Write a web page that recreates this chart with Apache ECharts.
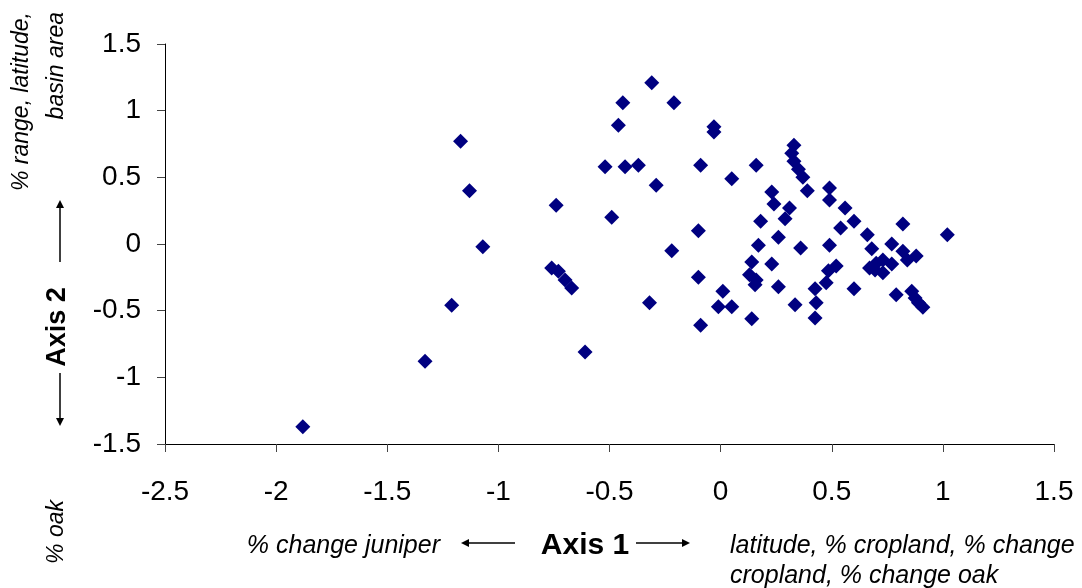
<!DOCTYPE html>
<html><head><meta charset="utf-8">
<script src="https://cdn.jsdelivr.net/npm/echarts@6/dist/echarts.min.js"></script>
<style>html,body{margin:0;padding:0;background:#fff}#c{width:1082px;height:588px}</style>
</head><body><div id="c"></div>
<script>
const axis1 = [-1.88,-1.33,-1.21,-1.07,-1.17,-1.13,-0.31,-0.44,-0.21,-0.46,-0.03,-0.03,0.33,0.32,0.33,0.35,0.37,0.39,-0.52,-0.43,-0.37,-0.09,0.16,0.05,-0.29,-0.74,0.23,0.24,0.31,0.29,0.18,-0.49,-0.10,0.26,0.17,0.36,-0.22,0.49,0.49,0.56,0.60,0.54,0.82,1.02,0.66,0.49,0.68,0.77,0.82,0.88,0.84,-0.76,-0.73,-0.70,-0.67,-0.32,-0.61,-0.10,0.01,-0.01,0.05,-0.09,0.14,0.23,0.13,0.16,0.155,0.26,0.335,0.14,0.425,0.43,0.425,0.475,0.485,0.52,0.60,0.67,0.70,0.73,0.77,0.73,0.695,0.79,0.86,0.875,0.89,0.91];
const axis2 = [-1.37,-0.88,-0.46,-0.02,0.77,0.40,1.21,1.06,1.06,0.89,0.88,0.84,0.74,0.68,0.62,0.56,0.50,0.40,0.58,0.58,0.59,0.59,0.59,0.49,0.44,0.29,0.39,0.30,0.27,0.19,0.17,0.20,0.10,0.05,-0.01,-0.03,-0.05,0.42,0.33,0.27,0.17,0.12,0.15,0.07,0.07,-0.01,-0.035,0.00,-0.055,-0.09,-0.12,-0.18,-0.205,-0.27,-0.33,-0.44,-0.81,-0.25,-0.355,-0.47,-0.47,-0.61,-0.135,-0.15,-0.23,-0.27,-0.305,-0.32,-0.455,-0.56,-0.335,-0.44,-0.555,-0.29,-0.20,-0.165,-0.335,-0.18,-0.145,-0.12,-0.15,-0.215,-0.195,-0.38,-0.355,-0.405,-0.44,-0.475];
const xTicks = {min:-2.5, max:1.5, interval:0.5};
const yTicks = {min:-1.5, max:1.5, interval:0.5};
const axis1Title = 'Axis 1', axis2Title = 'Axis 2';
const axis1Left = '% change juniper';
const axis1Right = ['latitude, % cropland, % change','cropland, % change oak'];
const axis2Top = ['% range, latitude,','basin area'];
const axis2Bottom = '% oak';

const pts = axis1.map((x,i)=>[x, axis2[i]]);
const FONT = '"Liberation Sans", Arial, sans-serif';
const fmt = v => String(v);
const chart = echarts.init(document.getElementById('c'), null, {renderer:'canvas'});
const ar = (x1,y1,x2,y2)=>{
  const dx=x2-x1, dy=y2-y1, L=Math.hypot(dx,dy), ux=dx/L, uy=dy/L, h=8, w=4;
  return [
    {type:'line', shape:{x1,y1,x2:x2-ux*h*0.8,y2:y2-uy*h*0.8}, style:{stroke:'#000', lineWidth:1.5}},
    {type:'polygon', shape:{points:[[x2,y2],[x2-ux*h-uy*w,y2-uy*h+ux*w],[x2-ux*h+uy*w,y2-uy*h-ux*w]]}, style:{fill:'#000'}}
  ];
};
chart.setOption({
  animation:false,
  grid:{left:165, right:28, top:44, bottom:144, containLabel:false},
  xAxis:{type:'value', min:xTicks.min, max:xTicks.max, interval:xTicks.interval,
    axisLine:{show:true, onZero:false, lineStyle:{color:'#000', width:1}},
    axisTick:{show:true, inside:false, length:8, lineStyle:{color:'#444'}},
    splitLine:{show:false},
    axisLabel:{color:'#000', fontSize:28, fontFamily:FONT, margin:34, formatter:fmt}},
  yAxis:{type:'value', min:yTicks.min, max:yTicks.max, interval:yTicks.interval,
    axisLine:{show:true, onZero:false, lineStyle:{color:'#000', width:1}},
    axisTick:{show:true, inside:false, length:8, lineStyle:{color:'#444'}},
    splitLine:{show:false},
    axisLabel:{color:'#000', fontSize:28, fontFamily:FONT, margin:24, formatter:fmt}},
  series:[{type:'scatter', data:pts, symbol:'diamond', symbolSize:15,
    itemStyle:{color:'#000080', opacity:1}}],
  graphic:[
    {type:'text', x:22, y:12, rotation:Math.PI/2, style:{text:axis2Top[0], font:'italic 23px '+FONT, fill:'#000', textAlign:'right', textVerticalAlign:'middle'}},
    {type:'text', x:57, y:12, rotation:Math.PI/2, style:{text:axis2Top[1], font:'italic 23px '+FONT, fill:'#000', textAlign:'right', textVerticalAlign:'middle'}},
    {type:'text', x:57, y:532, rotation:Math.PI/2, style:{text:axis2Bottom, font:'italic 23px '+FONT, fill:'#000', textAlign:'center', textVerticalAlign:'middle'}},
    {type:'text', x:58, y:327, rotation:Math.PI/2, style:{text:axis2Title, font:'bold 27px '+FONT, fill:'#000', textAlign:'center', textVerticalAlign:'middle'}},
    ...ar(60,262,60,200),
    ...ar(60,373,60,426),
    {type:'text', x:440, y:546, style:{text:axis1Left, font:'italic 25px '+FONT, fill:'#000', textAlign:'right', textVerticalAlign:'middle'}},
    {type:'text', x:585, y:546, style:{text:axis1Title, font:'bold 30px '+FONT, fill:'#000', textAlign:'center', textVerticalAlign:'middle'}},
    ...ar(515,543,461,543),
    ...ar(636,543,690,543),
    {type:'text', x:730, y:546, style:{text:axis1Right[0], font:'italic 25px '+FONT, fill:'#000', textAlign:'left', textVerticalAlign:'middle'}},
    {type:'text', x:730, y:576, style:{text:axis1Right[1], font:'italic 25px '+FONT, fill:'#000', textAlign:'left', textVerticalAlign:'middle'}}
  ]
});
</script></body></html>
